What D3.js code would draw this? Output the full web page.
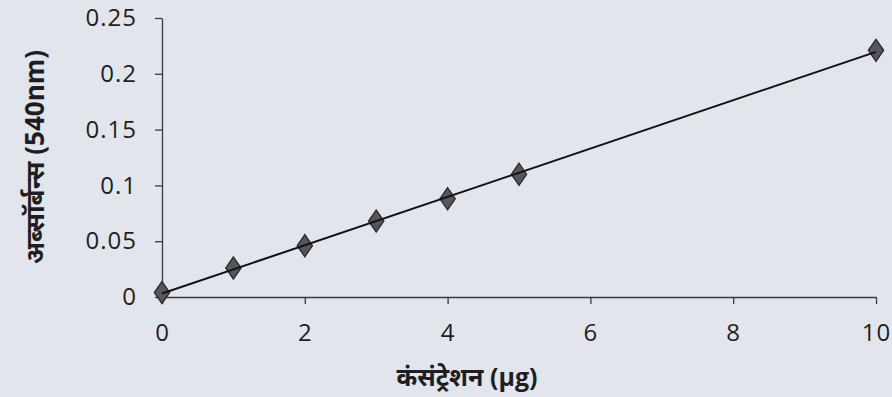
<!DOCTYPE html>
<html><head><meta charset="utf-8">
<script src="https://cdn.jsdelivr.net/npm/d3@7"></script>
<style>
html,body{margin:0;padding:0;background:#e3e5ed;}
svg{display:block;}
text{font-family:"Open Sans","Noto Sans","Noto Sans Devanagari",sans-serif;fill:#1e1e22;}
</style></head><body>
<svg id="c" width="892" height="397"></svg>
<script>
const concentration = [0, 1, 2, 3, 4, 5, 10];
const absorbance = [0.004, 0.026, 0.046, 0.068, 0.088, 0.110, 0.221];
const xTicks = [0, 2, 4, 6, 8, 10];
const yTicks = [0, 0.05, 0.1, 0.15, 0.2, 0.25];
const xTitle = "कंसंट्रेशन (µg)";
const yTitle = "अब्सॉर्बन्स (540nm)";

const svg = d3.select("#c");
const x = d3.scaleLinear().domain([0, 10]).range([162, 876]);
const y = d3.scaleLinear().domain([0, 0.25]).range([297, 18]);

// axes
const xAxis = d3.axisBottom(x).tickValues(xTicks).tickSize(7).tickSizeOuter(0).tickPadding(20).tickFormat(d3.format("d"));
const gx = svg.append("g").attr("transform", `translate(0,${y(0)})`).call(xAxis);
const yAxis = d3.axisLeft(y).tickValues(yTicks).tickSize(7).tickSizeOuter(0).tickPadding(18).tickFormat(d => d === 0 ? "0" : String(+d.toFixed(2)));
const gy = svg.append("g").attr("transform", `translate(${x(0)},0)`).call(yAxis);
[gx, gy].forEach(g => {
  g.attr("font-size", null).attr("font-family", null);
  g.selectAll("path,line").attr("stroke", "#3a3a40").attr("stroke-width", 1.3);
  g.selectAll("text").style("font-size", "24px").style("letter-spacing", "1px").attr("fill", "#1e1e22");
});

// linear trend line (least squares)
const mx = d3.mean(concentration), my = d3.mean(absorbance);
const slope = d3.sum(concentration, (c, i) => (c - mx) * (absorbance[i] - my)) / d3.sum(concentration, c => (c - mx) ** 2);
const icpt = my - slope * mx;

// markers
const sym = d3.symbol().type(d3.symbolDiamond).size(140);
svg.append("g").selectAll("path").data(concentration).join("path")
  .attr("d", sym)
  .attr("transform", (d, i) => `translate(${x(d)},${y(absorbance[i])}) scale(1.2,1)`)
  .attr("fill", "#56565c").attr("stroke", "#2a2a30").attr("stroke-width", 1.2);
svg.append("line")
  .attr("x1", x(0)).attr("y1", y(icpt))
  .attr("x2", x(10)).attr("y2", y(icpt + slope * 10))
  .attr("stroke", "#111").attr("stroke-width", 2);

// titles
svg.append("text").attr("x", 467).attr("y", 386).attr("text-anchor", "middle")
  .style("font-size", "25px").style("font-weight", "bold").text(xTitle);
svg.append("text").attr("transform", "translate(44,157) rotate(-90)").attr("text-anchor", "middle")
  .style("font-size", "26px").style("font-weight", "bold").text(yTitle);
</script>
</body></html>
